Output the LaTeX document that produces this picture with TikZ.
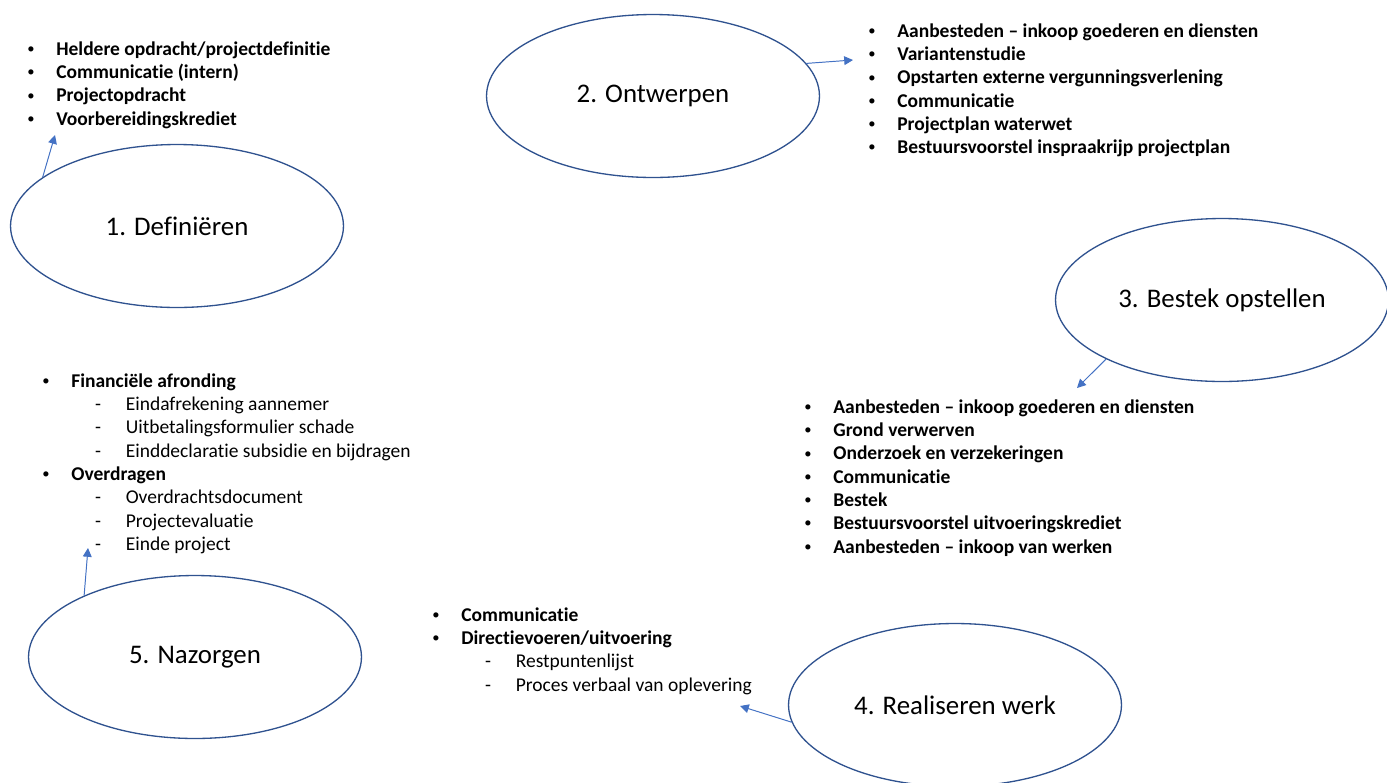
\documentclass[tikz,border=0pt]{standalone}
\usepackage{fontspec}
\usepackage{graphicx}
\setmainfont{Carlito}[Ligatures={TeX,NoCommon}]
\usetikzlibrary{shapes.geometric,arrows.meta,positioning}

\definecolor{phaseblue}{HTML}{2F528F}
\definecolor{linkblue}{HTML}{4472C4}

\newcommand{\pnt}[1]{\makebox[16.5pt][l]{\raisebox{0.2ex}{\scalebox{0.75}{\textbullet}}}\textbf{#1}}
\newcommand{\subpnt}[1]{\hspace*{30pt}\makebox[17.5pt][l]{-}#1}

\begin{document}
\begin{tikzpicture}[x=0.02cm, y=-0.02cm, >={Triangle[length=5pt,width=5pt]}]
    \tikzstyle{phase} = [ellipse, draw=phaseblue, line width=0.75pt,
                         minimum width=6.66cm, minimum height=3.26cm,
                         inner sep=0pt, font=\fontsize{15.3}{17}\selectfont]
    \tikzstyle{tasks} = [anchor=north west, inner sep=0pt, align=left,
                         font=\fontsize{11.1}{13.26}\selectfont]
    \tikzstyle{link} = [->, draw=linkblue, fill=linkblue, line width=0.55pt]

    \useasboundingbox (0,0) rectangle (1387,782);

    \node (def)    [phase] at (177,226)  {1. Definiëren};
    \node (ontw)   [phase] at (653,96)   {2. Ontwerpen};
    \node (bestek) [phase] at (1222,300) {3. Bestek opstellen};
    \node (real)   [phase] at (955,705)  {4. Realiseren werk};
    \node (nazorg) [phase] at (195,657)  {5. Nazorgen};

    \node (defList) [tasks] at (27,38.7) {\strut\pnt{Heldere opdracht/projectdefinitie}\\
      \pnt{Communicatie (intern)}\\ \pnt{Projectopdracht}\\ \pnt{Voorbereidingskrediet}};
    \node (ontwList) [tasks] at (868,20.7) {\strut\pnt{Aanbesteden -- inkoop goederen en diensten}\\
      \pnt{Variantenstudie}\\ \pnt{Opstarten externe vergunningsverlening}\\
      \pnt{Communicatie}\\ \pnt{Projectplan waterwet}\\
      \pnt{Bestuursvoorstel inspraakrijp projectplan}};
    \node (bestekList) [tasks] at (804,396.7) {\strut\pnt{Aanbesteden -- inkoop goederen en diensten}\\
      \pnt{Grond verwerven}\\ \pnt{Onderzoek en verzekeringen}\\ \pnt{Communicatie}\\
      \pnt{Bestek}\\ \pnt{Bestuursvoorstel uitvoeringskrediet}\\
      \pnt{Aanbesteden -- inkoop van werken}};
    \node (realList) [tasks] at (432,604.7) {\strut\pnt{Communicatie}\\
      \pnt{Directievoeren/uitvoering}\\ \subpnt{Restpuntenlijst}\\
      \subpnt{Proces verbaal van oplevering}};
    \node (nazorgList) [tasks] at (42,370.7) {\strut\pnt{Financiële afronding}\\
      \subpnt{Eindafrekening aannemer}\\ \subpnt{Uitbetalingsformulier schade}\\
      \subpnt{Einddeclaratie subsidie en bijdragen}\\ \pnt{Overdragen}\\
      \subpnt{Overdrachtsdocument}\\ \subpnt{Projectevaluatie}\\
      \subpnt{Einde project}};

    \coordinate (defTip)    at (55,135);
    \coordinate (ontwTip)   at (853,60);
    \coordinate (bestekTip) at (1077,388);
    \coordinate (realTip)   at (740,706);
    \coordinate (nazorgTip) at (88,548);

    \draw [link] (def.160)    -- (defTip);
    \draw [link] (ontw.12)    -- (ontwTip);
    \draw [link] (bestek.207) -- (bestekTip);
    \draw [link] (real.186)   -- (realTip);
    \draw [link] (nazorg.151) -- (nazorgTip);
\end{tikzpicture}
\end{document}
